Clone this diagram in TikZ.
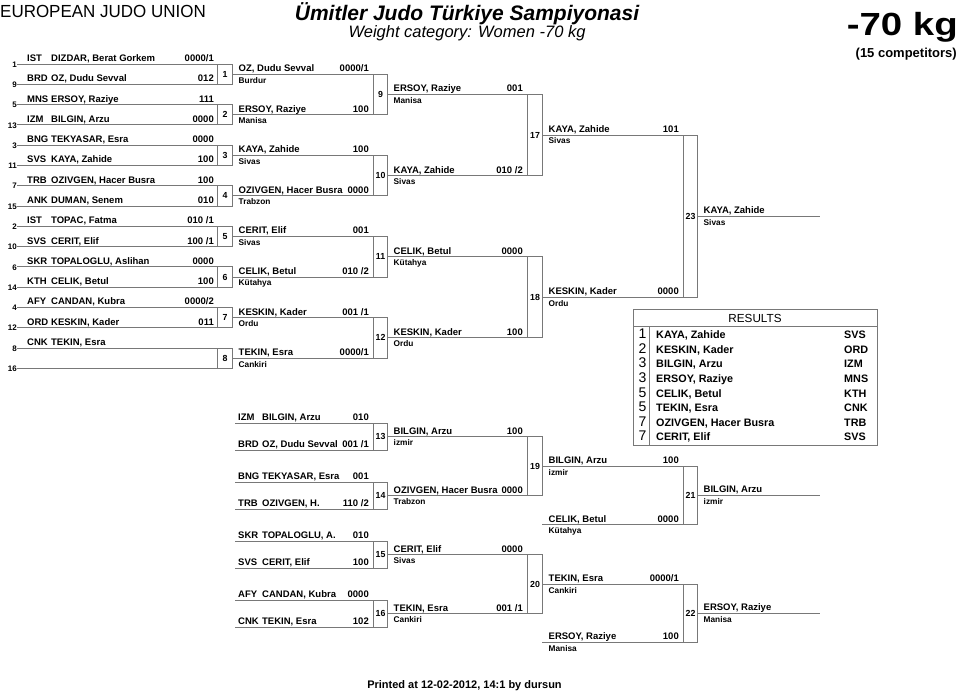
\documentclass[tikz,border=0pt]{standalone}
\usepackage{fontspec}
\setmainfont{Liberation Sans}
\definecolor{lg}{RGB}{120,120,120}
\tikzset{
 ln/.style={draw=lg, line width=0.9pt},
 nm/.style={font=\bfseries\fontsize{9.5}{10}\selectfont, anchor=base west, inner sep=0pt},
 sc/.style={font=\bfseries\fontsize{9.5}{10}\selectfont, anchor=base east, inner sep=0pt},
 ct/.style={font=\bfseries\fontsize{8.3}{9}\selectfont, anchor=base west, inner sep=0pt},
 sd/.style={font=\bfseries\fontsize{8}{9}\selectfont, anchor=east, inner sep=0.5pt},
 bn/.style={font=\bfseries\fontsize{8.8}{9}\selectfont, inner sep=0pt},
 rk/.style={font=\fontsize{14}{15}\selectfont, anchor=base, inner sep=0pt},
 rn/.style={font=\bfseries\fontsize{10.8}{12}\selectfont, anchor=base west, inner sep=0pt},
}
\newcommand{\codename}[2]{\makebox[24pt][l]{#1}#2}
% round-1 slot: id, y, seed, code, name, score
\newcommand{\fslot}[6]{%
  \coordinate (#1s) at (17,#2);
  \coordinate (#1e) at (217,#2);
  \draw[ln] (#1s) -- (#1e);
  \node[sd] (#1d) at (17.5,#2+0.5) {#3};
  \node[nm] (#1n) at (27,#2-2.5) {\codename{#4}{#5}};
  \node[sc] (#1c) at (214,#2-2.5) {#6};
}
% winner slot: id, xs, xe, y, name, score, city
\newcommand{\wslot}[7]{%
  \coordinate (#1s) at (#2,#4);
  \coordinate (#1e) at (#3,#4);
  \draw[ln] (#1s) -- (#1e);
  \node[nm] (#1n) at (#2+6.5,#4-2.5) {#5};
  \node[sc] (#1c) at (#3-4,#4-2.5) {#6};
  \node[ct] (#1t) at (#2+6.5,#4+9) {#7};
}
% repechage slot: id, y, code, name, score
\newcommand{\rslot}[5]{%
  \coordinate (#1s) at (235,#2);
  \coordinate (#1e) at (373,#2);
  \draw[ln] (#1s) -- (#1e);
  \node[nm] (#1n) at (238,#2-2.5) {\codename{#3}{#4}};
  \node[sc] (#1c) at (369,#2-2.5) {#5};
}
% match box: id, xl, xr, yt, yb, number
\newcommand{\jbox}[6]{%
  \coordinate (#1a) at (#2,#4);
  \coordinate (#1b) at (#3,#5);
  \draw[ln] (#1a) rectangle (#1b);
  \node[bn] (#1) at ({(#2+#3)/2+0.5},{(#4+#5)/2}) {#6};
}
\begin{document}
\begin{tikzpicture}[x=1pt,y=-1pt]
\fill[white] (0,0) rectangle (960,692);
\useasboundingbox (0,0) rectangle (960,692);

% headings
\node[font=\fontsize{17.5}{20}\selectfont, anchor=base west, inner sep=0pt] (eju) at (0,17.5) {\scalebox{0.97}[1]{EUROPEAN JUDO UNION}};
\node[font=\bfseries\itshape\fontsize{21}{24}\selectfont, anchor=base, inner sep=0pt] (title) at (467,21) {Ümitler Judo Türkiye Sampiyonasi};
\node[font=\itshape\fontsize{16.5}{19}\selectfont, anchor=base, inner sep=0pt] (sub) at (467,37.5) {Weight category: Women -70 kg};
\node[font=\bfseries\fontsize{32}{36}\selectfont, anchor=base east, inner sep=0pt] (wc) at (958,36) {\scalebox{1.2}[1]{-70 kg}};
\node[font=\bfseries\fontsize{13}{15}\selectfont, anchor=base east, inner sep=0pt] (nc) at (957,57.5) {(15 competitors)};
\node[font=\bfseries\fontsize{11}{13}\selectfont, anchor=base, inner sep=0pt] (pr) at (464.5,688) {Printed at 12-02-2012, 14:1 by dursun};

% round 1
\fslot{a1}{64}{1}{IST}{DIZDAR, Berat Gorkem}{0000/1}
\fslot{a2}{84.3}{9}{BRD}{OZ, Dudu Sevval}{012}
\fslot{a3}{104.6}{5}{MNS}{ERSOY, Raziye}{111}
\fslot{a4}{124.9}{13}{IZM}{BILGIN, Arzu}{0000}
\fslot{a5}{145.1}{3}{BNG}{TEKYASAR, Esra}{0000}
\fslot{a6}{165.4}{11}{SVS}{KAYA, Zahide}{100}
\fslot{a7}{185.7}{7}{TRB}{OZIVGEN, Hacer Busra}{100}
\fslot{a8}{206.0}{15}{ANK}{DUMAN, Senem}{010}
\fslot{a9}{226.3}{2}{IST}{TOPAC, Fatma}{010 /1}
\fslot{a10}{246.6}{10}{SVS}{CERIT, Elif}{100 /1}
\fslot{a11}{266.9}{6}{SKR}{TOPALOGLU, Aslihan}{0000}
\fslot{a12}{287.2}{14}{KTH}{CELIK, Betul}{100}
\fslot{a13}{307.4}{4}{AFY}{CANDAN, Kubra}{0000/2}
\fslot{a14}{327.7}{12}{ORD}{KESKIN, Kader}{011}
\fslot{a15}{348.0}{8}{CNK}{TEKIN, Esra}{}
\fslot{a16}{368.3}{16}{}{}{}
\jbox{m1}{217}{232}{64}{84.3}{1}
\jbox{m2}{217}{232}{104.6}{124.9}{2}
\jbox{m3}{217}{232}{145.1}{165.4}{3}
\jbox{m4}{217}{232}{185.7}{206.0}{4}
\jbox{m5}{217}{232}{226.3}{246.6}{5}
\jbox{m6}{217}{232}{266.9}{287.2}{6}
\jbox{m7}{217}{232}{307.4}{327.7}{7}
\jbox{m8}{217}{232}{348.0}{368.3}{8}

% round 2
\wslot{b1}{232}{373}{74.15}{OZ, Dudu Sevval}{0000/1}{Burdur}
\wslot{b2}{232}{373}{114.7}{ERSOY, Raziye}{100}{Manisa}
\wslot{b3}{232}{373}{155.3}{KAYA, Zahide}{100}{Sivas}
\wslot{b4}{232}{373}{195.9}{OZIVGEN, Hacer Busra}{0000}{Trabzon}
\wslot{b5}{232}{373}{236.4}{CERIT, Elif}{001}{Sivas}
\wslot{b6}{232}{373}{277.0}{CELIK, Betul}{010 /2}{Kütahya}
\wslot{b7}{232}{373}{317.6}{KESKIN, Kader}{001 /1}{Ordu}
\wslot{b8}{232}{373}{358.1}{TEKIN, Esra}{0000/1}{Cankiri}
\jbox{m9}{373}{387}{74.15}{114.7}{9}
\jbox{m10}{373}{387}{155.3}{195.9}{10}
\jbox{m11}{373}{387}{236.4}{277.0}{11}
\jbox{m12}{373}{387}{317.6}{358.1}{12}

% round 3
\wslot{c1}{387}{527}{94.4}{ERSOY, Raziye}{001}{Manisa}
\wslot{c2}{387}{527}{175.6}{KAYA, Zahide}{010 /2}{Sivas}
\wslot{c3}{387}{527}{256.7}{CELIK, Betul}{0000}{Kütahya}
\wslot{c4}{387}{527}{337.9}{KESKIN, Kader}{100}{Ordu}
\jbox{m17}{527}{542}{94.4}{175.6}{17}
\jbox{m18}{527}{542}{256.7}{337.9}{18}

% round 4 and final
\wslot{d1}{542}{683}{135.0}{KAYA, Zahide}{101}{Sivas}
\wslot{d2}{542}{683}{297.3}{KESKIN, Kader}{0000}{Ordu}
\jbox{m23}{683}{697}{135.0}{297.3}{23}
\wslot{f1}{697}{820}{216.2}{KAYA, Zahide}{}{Sivas}

% repechage
\rslot{r1}{423}{IZM}{BILGIN, Arzu}{010}
\rslot{r2}{450}{BRD}{OZ, Dudu Sevval}{001 /1}
\rslot{r3}{482}{BNG}{TEKYASAR, Esra}{001}
\rslot{r4}{509}{TRB}{OZIVGEN, H.}{110 /2}
\rslot{r5}{541}{SKR}{TOPALOGLU, A.}{010}
\rslot{r6}{568}{SVS}{CERIT, Elif}{100}
\rslot{r7}{600}{AFY}{CANDAN, Kubra}{0000}
\rslot{r8}{627}{CNK}{TEKIN, Esra}{102}
\jbox{m13}{373}{387}{423}{450}{13}
\jbox{m14}{373}{387}{482}{509}{14}
\jbox{m15}{373}{387}{541}{568}{15}
\jbox{m16}{373}{387}{600}{627}{16}

\wslot{s1}{387}{527}{436.5}{BILGIN, Arzu}{100}{izmir}
\wslot{s2}{387}{527}{495.5}{OZIVGEN, Hacer Busra}{0000}{Trabzon}
\wslot{s3}{387}{527}{554.5}{CERIT, Elif}{0000}{Sivas}
\wslot{s4}{387}{527}{613.5}{TEKIN, Esra}{001 /1}{Cankiri}
\jbox{m19}{527}{542}{436.5}{495.5}{19}
\jbox{m20}{527}{542}{554.5}{613.5}{20}

\wslot{t1}{542}{683}{466}{BILGIN, Arzu}{100}{izmir}
\wslot{t2}{542}{683}{524.5}{CELIK, Betul}{0000}{Kütahya}
\wslot{t3}{542}{683}{584}{TEKIN, Esra}{0000/1}{Cankiri}
\wslot{t4}{542}{683}{642}{ERSOY, Raziye}{100}{Manisa}
\jbox{m21}{683}{697}{466}{524.5}{21}
\jbox{m22}{683}{697}{584}{642}{22}
\wslot{u1}{697}{820}{495.25}{BILGIN, Arzu}{}{izmir}
\wslot{u2}{697}{820}{613}{ERSOY, Raziye}{}{Manisa}

% results
\coordinate (ra) at (633,309);
\coordinate (rb) at (877,445);
\draw[ln] (ra) rectangle (rb);
\coordinate (rh1) at (633,326);
\coordinate (rh2) at (877,326);
\draw[ln] (rh1) -- (rh2);
\coordinate (rv1) at (649,326);
\coordinate (rv2) at (649,445);
\draw[ln] (rv1) -- (rv2);
\node[font=\fontsize{11.7}{13}\selectfont, anchor=base, inner sep=0pt] (rhead) at (755,322.3) {RESULTS};
\foreach \k/\r/\n/\c in {1/1/{KAYA, Zahide}/SVS, 2/2/{KESKIN, Kader}/ORD, 3/3/{BILGIN, Arzu}/IZM, 4/3/{ERSOY, Raziye}/MNS, 5/5/{CELIK, Betul}/KTH, 6/5/{TEKIN, Esra}/CNK, 7/7/{OZIVGEN, Hacer Busra}/TRB, 8/7/{CERIT, Elif}/SVS}{
  \node[rk] (rr\k) at (642.5,{338.8+14.57*(\k-1)}) {\r};
  \node[rn] (rn\k) at (656,{338.8+14.57*(\k-1)}) {\n};
  \node[rn] (rc\k) at (844,{338.8+14.57*(\k-1)}) {\c};
}
\end{tikzpicture}
\end{document}
